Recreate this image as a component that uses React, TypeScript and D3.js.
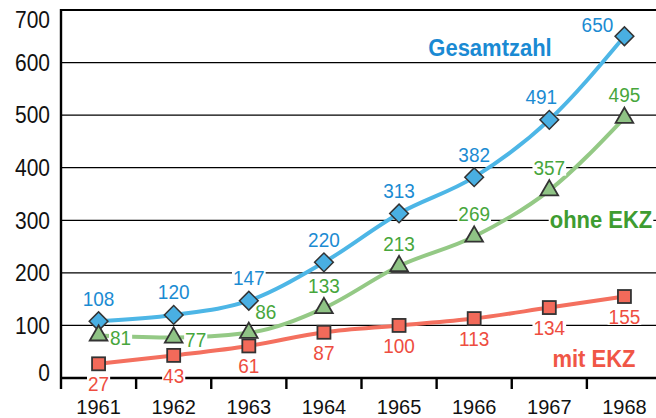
import React, { useEffect, useRef } from 'react';
import * as d3 from 'd3';

const years = ['1961', '1962', '1963', '1964', '1965', '1966', '1967', '1968'];
const gesamtzahl = [108, 120, 147, 220, 313, 382, 491, 650];
const ohneEkz = [81, 77, 86, 133, 213, 269, 357, 495];
const mitEkz = [27, 43, 61, 87, 100, 113, 134, 155];
const yTicks = [0, 100, 200, 300, 400, 500, 600, 700];

const FONT = 'Liberation Sans, Arial, Helvetica, sans-serif';
const STRETCH = 1.1; // glyphs in the original are a bit taller than Arial

const App = () => {
  const ref = useRef<SVGSVGElement>(null);

  useEffect(() => {
    const width = 656;
    const height = 418;
    const left = 61;

    const svg = d3.select(ref.current).attr('width', width).attr('height', height);
    svg.selectAll('*').remove();

    const x = d3.scaleBand<string>().domain(years).range([left, 662]).padding(0);
    const y = d3.scaleLinear().domain([0, 700]).range([378, 10]);
    const cx = (i: number) => (x(years[i]) as number) + x.bandwidth() / 2;

    // grid lines
    svg.append('g')
      .selectAll('line')
      .data(yTicks.filter(t => t > 0 && t < 700))
      .enter()
      .append('line')
      .attr('x1', left)
      .attr('x2', width)
      .attr('y1', d => y(d))
      .attr('y2', d => y(d))
      .attr('stroke', '#000')
      .attr('stroke-width', 1.3);

    // frame: top, left, bottom
    svg.append('line').attr('x1', left).attr('x2', width).attr('y1', y(700)).attr('y2', y(700))
      .attr('stroke', '#000').attr('stroke-width', 2.2);
    svg.append('line').attr('x1', left).attr('x2', left).attr('y1', y(700) - 1).attr('y2', 389)
      .attr('stroke', '#000').attr('stroke-width', 2.4);
    svg.append('line').attr('x1', left).attr('x2', width).attr('y1', y(0)).attr('y2', y(0))
      .attr('stroke', '#000').attr('stroke-width', 2.4);

    // boundary ticks on x axis
    svg.append('g')
      .selectAll('line')
      .data(years.slice(1))
      .enter()
      .append('line')
      .attr('x1', d => x(d) as number)
      .attr('x2', d => x(d) as number)
      .attr('y1', y(0))
      .attr('y2', 389)
      .attr('stroke', '#000')
      .attr('stroke-width', 2.4);

    // generic text helper, stretched vertically like the source
    const addText = (tx: number, ty: number, txt: string, color: string, size: number,
      anchor: string, weight = 'normal', bg = false, stretch = STRETCH) => {
      const g = svg.append('g').attr('transform', `translate(${tx},${ty}) scale(1,${stretch})`);
      const t = g.append('text')
        .attr('x', 0)
        .attr('y', 0)
        .attr('dy', '0.36em')
        .attr('text-anchor', anchor)
        .style('font-family', FONT)
        .style('font-size', `${size}px`)
        .style('font-weight', weight)
        .attr('fill', color)
        .text(txt);
      if (bg) {
        const b = (t.node() as SVGTextElement).getBBox();
        g.insert('rect', 'text')
          .attr('x', b.x - 1)
          .attr('y', -size * 0.4)
          .attr('width', b.width + 2)
          .attr('height', size * 0.8)
          .attr('fill', '#fff');
      }
    };

    // x labels (kept unstretched so they stay inside the picture)
    years.forEach((d, i) => addText(cx(i), 406.5, d, '#111', 20, 'middle', 'normal', false, 1));

    // y labels
    yTicks.forEach(d => addText(50, y(d) + (d === 700 ? 10 : d === 0 ? -5 : 0), String(d), '#111', 21, 'end'));

    const line = d3.line<number>()
      .x((d, i) => cx(i))
      .y(d => y(d))
      .curve(d3.curveMonotoneX);

    const series = [
      { key: 'gesamt', values: gesamtzahl, line: '#4db6e6', text: '#1b8bd2', place: (i: number) => (i === 7 ? 'aboveLeft' : i === 6 ? 'aboveSlightLeft' : 'above') },
      { key: 'ohne', values: ohneEkz, line: '#94c985', text: '#47a63c', place: (i: number) => (i < 2 ? 'right' : i === 2 ? 'aboveRight' : 'above') },
      { key: 'mit', values: mitEkz, line: '#f4705f', text: '#ee4d40', place: (i: number) => 'below' },
    ];

    series.forEach(s => {
      svg.append('path')
        .datum(s.values)
        .attr('d', line)
        .attr('fill', 'none')
        .attr('stroke', s.line)
        .attr('stroke-width', 4);
    });

    series.forEach(s => {
      s.values.forEach((v, i) => {
        const p = s.place(i);
        let lx = cx(i);
        let ly = y(v);
        if (p === 'above') ly -= 23;
        else if (p === 'below') ly += 20;
        else if (p === 'right') { lx += 22; ly += 2; }
        else if (p === 'aboveRight') { lx += 17; ly -= 21; }
        else if (p === 'aboveLeft') { lx -= 27; ly -= 12; }
        else if (p === 'aboveSlightLeft') { lx -= 8; ly -= 23; }
        addText(lx, ly, String(v), s.text, 19, 'middle', 'normal', true);
      });
    });

    addText(490, 47, 'Gesamtzahl', '#1a8ad3', 22, 'middle', 'bold', true);
    addText(601, 219, 'ohne EKZ', '#3e9c31', 22, 'middle', 'bold', true);
    addText(594, 358, 'mit EKZ', '#f05646', 22, 'middle', 'bold', true);

    // markers
    const markerStroke = '#333';
    svg.append('g')
      .selectAll('path')
      .data(gesamtzahl)
      .enter()
      .append('path')
      .attr('d', d3.symbol().type(d3.symbolSquare).size(175))
      .attr('transform', (d, i) => `translate(${cx(i)},${y(d)}) rotate(45)`)
      .attr('fill', '#49afe2')
      .attr('stroke', markerStroke)
      .attr('stroke-width', 1.5);

    svg.append('g')
      .selectAll('path')
      .data(ohneEkz)
      .enter()
      .append('path')
      .attr('d', d3.symbol().type(d3.symbolTriangle).size(135))
      .attr('transform', (d, i) => `translate(${cx(i)},${y(d)})`)
      .attr('fill', '#8fc385')
      .attr('stroke', markerStroke)
      .attr('stroke-width', 1.8);

    svg.append('g')
      .selectAll('rect')
      .data(mitEkz)
      .enter()
      .append('rect')
      .attr('x', (d, i) => cx(i) - 6.5)
      .attr('y', d => y(d) - 6.5)
      .attr('width', 13)
      .attr('height', 13)
      .attr('fill', '#f26a5a')
      .attr('stroke', markerStroke)
      .attr('stroke-width', 1.8);
  }, []);

  return (
    <svg ref={ref} style={{ position: 'absolute', left: 0, top: 0, background: '#fff' }} />
  );
};

export default App;
